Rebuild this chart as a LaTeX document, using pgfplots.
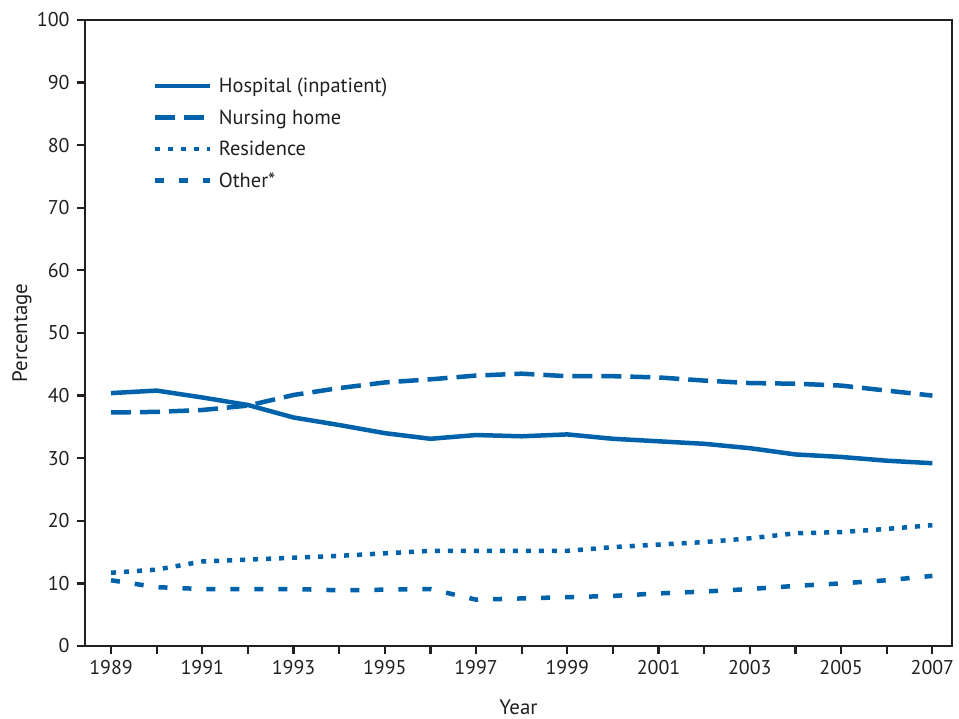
\documentclass[border=0pt]{standalone}
\usepackage{pgfplots}
\pgfplotsset{compat=1.18}
\usepackage{fontspec}
\setmainfont{PT Sans}
\definecolor{cdcblue}{HTML}{0062AB}
\definecolor{axisgray}{HTML}{231F20}
\begin{document}
\begin{tikzpicture}
\begin{axis}[
    scale only axis,
    width=867bp, height=626bp,
    xmin=1988.43, xmax=2007.43,
    ymin=0, ymax=100,
    axis line style={axisgray, line width=2.2bp},
    xtick={1989,1990,...,2007},
    xticklabels={1989,,1991,,1993,,1995,,1997,,1999,,2001,,2003,,2005,,2007},
    ytick={0,10,...,100},
    tick align=outside,
    tick pos=left,
    major tick length=8bp,
    tick style={axisgray, line width=2.2bp},
    /pgf/number format/1000 sep={},
    /pgf/number format/assume math mode=true,
    tick label style={font=\fontsize{20}{24}\selectfont, text=axisgray},
    xticklabel style={yshift=-3bp},
    yticklabel style={xshift=-4bp},
    xlabel={Year},
    ylabel={Percentage},
    xlabel style={at={(axis description cs:0.5,-0.0975)}, anchor=center,
        font=\fontsize{21}{24}\selectfont, text=axisgray},
    ylabel style={at={(axis description cs:-0.0727,0.5)}, anchor=center, rotate=0,
        font=\fontsize{21}{24}\selectfont, text=axisgray},
    legend style={at={(0.074,0.914)}, anchor=north west, draw=none, fill=none,
        font=\fontsize{20.5}{24}\selectfont, text=axisgray, row sep=11.5bp,
        nodes={inner xsep=7bp}},
    legend cell align=left,
    legend image code/.code={\draw[#1] (0bp,0bp) -- (55bp,0bp);},
]
\addplot[cdcblue, line width=4.5bp, solid] coordinates {
(1989,40.4) (1990,40.8) (1991,39.7) (1992,38.5) (1993,36.5) (1994,35.3)
(1995,34.0) (1996,33.1) (1997,33.7) (1998,33.5) (1999,33.8) (2000,33.1)
(2001,32.7) (2002,32.3) (2003,31.6) (2004,30.6) (2005,30.2) (2006,29.6) (2007,29.2)};
\addlegendentry{Hospital (inpatient)}
\addplot[cdcblue, line width=4.5bp, dash pattern=on 20bp off 9bp] coordinates {
(1989,37.3) (1990,37.4) (1991,37.7) (1992,38.4) (1993,40.1) (1994,41.2)
(1995,42.1) (1996,42.6) (1997,43.2) (1998,43.5) (1999,43.1) (2000,43.1)
(2001,42.9) (2002,42.4) (2003,42.0) (2004,41.9) (2005,41.6) (2006,40.8) (2007,40.0)};
\addlegendentry{Nursing home}
\addplot[cdcblue, line width=4.5bp, dash pattern=on 5bp off 8bp] coordinates {
(1989,11.7) (1990,12.2) (1991,13.5) (1992,13.8) (1993,14.1) (1994,14.4)
(1995,14.8) (1996,15.2) (1997,15.2) (1998,15.2) (1999,15.2) (2000,15.8)
(2001,16.2) (2002,16.6) (2003,17.2) (2004,18.0) (2005,18.2) (2006,18.7) (2007,19.3)};
\addlegendentry{Residence}
\addplot[cdcblue, line width=4.5bp, dash pattern=on 9bp off 15bp] coordinates {
(1989,10.5) (1990,9.4) (1991,9.1) (1992,9.1) (1993,9.1) (1994,8.9)
(1995,9.0) (1996,9.1) (1997,7.4) (1998,7.6) (1999,7.8) (2000,8.0)
(2001,8.4) (2002,8.7) (2003,9.1) (2004,9.6) (2005,10.0) (2006,10.5) (2007,11.2)};
\addlegendentry{Other*}
\end{axis}
\pgfresetboundingbox
\path (current axis.south west) ++(-85bp,-73bp) rectangle ++(959bp,719bp);
\end{tikzpicture}
\end{document}
